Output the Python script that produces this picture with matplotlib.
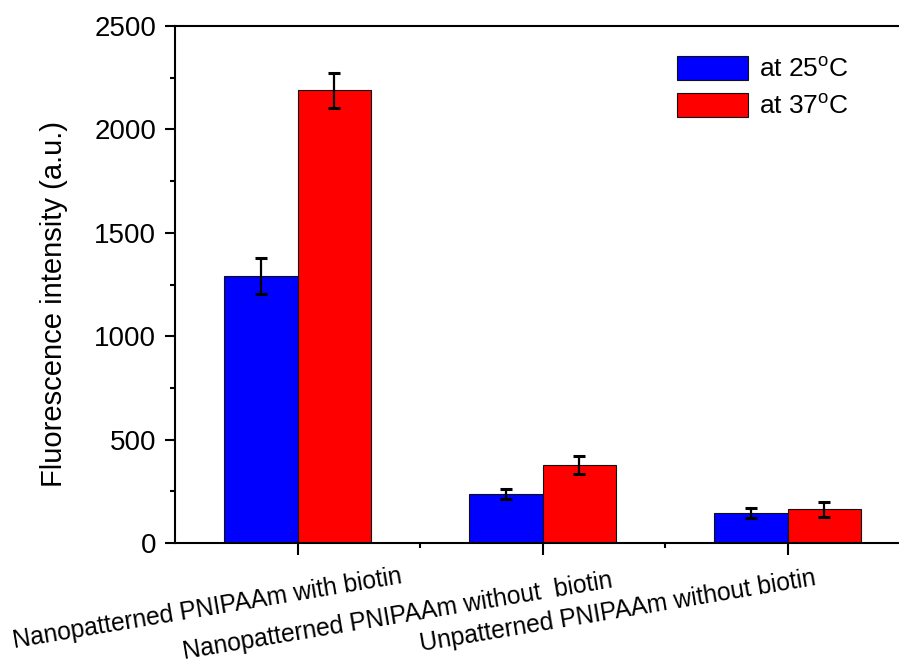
import matplotlib
matplotlib.use('Agg')
import matplotlib.pyplot as plt
import matplotlib.transforms as mtransforms
import numpy as np

plt.rcParams['font.family'] = ['Liberation Sans', 'DejaVu Sans']
plt.rcParams['mathtext.fontset'] = 'custom'
plt.rcParams['mathtext.rm'] = 'Liberation Sans'

# datos
categorias = ['Nanopatterned PNIPAAm with biotin',
              'Nanopatterned PNIPAAm without  biotin',
              'Unpatterned PNIPAAm without biotin']
valores_25 = [1290, 237, 146]
error_25 = [86, 25, 23]
valores_37 = [2190, 377, 163]
error_37 = [85, 45, 36]
etiquetas = ['at 25$^{\\rm o}$C', 'at 37$^{\\rm o}$C']

fig = plt.figure(figsize=(8.99, 6.63), dpi=100)
ax = fig.add_axes([175 / 899, 1 - 543 / 663, 735 / 899, 517 / 663])

x = np.arange(1, len(categorias) + 1)
ancho = 0.3
ax.bar(x - ancho / 2, valores_25, ancho, color='#0000FF', edgecolor='#111111',
       linewidth=0.8, label=etiquetas[0])
ax.bar(x + ancho / 2, valores_37, ancho, color='#FF0000', edgecolor='#111111',
       linewidth=0.8, label=etiquetas[1])
ax.errorbar(x - ancho / 2, valores_25, yerr=error_25, fmt='none', ecolor='black',
            elinewidth=1.6, capsize=4.5, capthick=2.2)
ax.errorbar(x + ancho / 2, valores_37, yerr=error_37, fmt='none', ecolor='black',
            elinewidth=1.6, capsize=4.5, capthick=2.2)

ax.set_xlim(0.5, 3.5)
ax.set_ylim(0, 2500)
ax.set_yticks(np.arange(0, 2501, 500))
ax.set_yticks(np.arange(250, 2500, 500), minor=True)
ax.set_xticks(x)
ax.set_xticks([1.5, 2.5], minor=True)
ax.set_xticklabels([])
ax.tick_params(axis='y', which='major', direction='out', length=7.5, width=1.5,
               labelsize=20, pad=6)
ax.tick_params(axis='y', which='minor', direction='out', length=3.5, width=1.5)
ax.tick_params(axis='x', which='major', direction='out', length=8.5, width=1.5)
ax.tick_params(axis='x', which='minor', direction='out', length=3.5, width=1.5)
for s in ['left', 'bottom', 'top', 'right']:
    ax.spines[s].set_linewidth(1.5)

ax.set_ylabel('Fluorescence intensity (a.u.)', fontsize=21)
ax.yaxis.set_label_coords(-0.146, 0.463)

# etiquetas inclinadas del eje x
trans = mtransforms.blended_transform_factory(ax.transData, ax.transAxes)
desplaz = [0.43, 0.29, 0.12]
altura = [-0.078, -0.085, -0.081]
for i, c in enumerate(categorias):
    ax.text(x[i] + desplaz[i], altura[i], c, transform=trans, rotation=9.5,
            rotation_mode='anchor', ha='right', va='baseline', fontsize=17.7)

ax.legend(loc='upper left', bbox_to_anchor=(0.683, 0.942), frameon=False,
          fontsize=19, handlelength=2.7, handleheight=1.05, handletextpad=0.4,
          labelspacing=0.4, borderpad=0, borderaxespad=0)

plt.savefig('out.png', dpi=100)
